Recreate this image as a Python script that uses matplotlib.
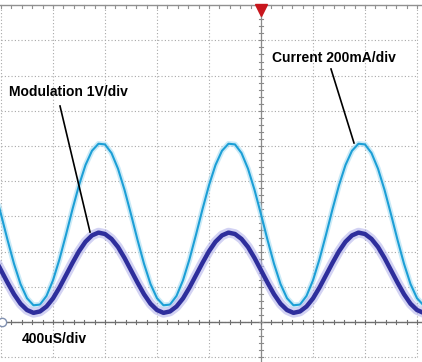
import matplotlib
matplotlib.use('Agg')
import matplotlib.pyplot as plt
import numpy as np

# Time samples in ms (400 us/div on the scope)
time_ms = [-0.05] + [round(0.05 * i, 2) for i in range(66)]

# Modulation voltage (V)
mod_period = [1.47, 1.12, 0.79, 0.52, 0.34, 0.26, 0.30, 0.44, 0.67, 0.98,
              1.33, 1.68, 2.01, 2.28, 2.46, 2.54, 2.50, 2.36, 2.13, 1.82]
modulation_v = [1.82] + mod_period * 3 + [1.47, 1.12, 0.79, 0.52, 0.34, 0.26]

# LED current (mA)
cur_period = [612, 467, 331, 216, 135, 95, 99, 148, 237, 357,
              496, 641, 777, 892, 973, 1013, 1009, 960, 871, 751]
current_ma = [751] + cur_period * 3 + [612, 467, 331, 216, 135, 95]

# Scope settings
volts_per_div = 1.0
ma_per_div = 200.0

t = np.array(time_ms)
mod_div = np.array(modulation_v) / volts_per_div
cur_div = np.array(current_ma) / ma_per_div

# Figure covering the whole image
fig = plt.figure(figsize=(4.22, 3.62), dpi=100)
ax = fig.add_axes([0, 0, 1, 1])
ax.set_xlim(-1 / 130, 421 / 130)
ax.set_ylim(-40 / 35.2, 322 / 35.2)
ax.axis('off')

grid_color = '#a8a8a8'

# Dotted graticule
for gx in np.arange(0, 3.21, 0.4):
    ax.plot([gx, gx], [-1, 9], color=grid_color, lw=0.8, ls=(0, (1, 2)), zorder=1)
for gy in range(-1, 9):
    ax.plot([0, 3.2], [gy, gy], color=grid_color, lw=0.8, ls=(0, (1, 2)), zorder=1)

# Solid top line and center axes with small ticks
ax.plot([-0.01, 3.24], [9, 9], color='#909090', lw=1.0, zorder=2)
ax.plot([2.0, 2.0], [-1.2, 9], color='#8a8a8a', lw=0.9, zorder=2)
ax.plot([-0.01, 3.24], [0, 0], color='#707070', lw=1.0, zorder=2)
for tx in np.arange(0, 3.21, 0.08):
    ax.plot([tx, tx], [-0.07, 0.07], color='#707070', lw=0.8, zorder=2)
    ax.plot([tx, tx], [8.93, 9.0], color='#909090', lw=0.8, zorder=2)
for ty in np.arange(-1, 9.01, 0.2):
    ax.plot([1.985, 2.015], [ty, ty], color='#8a8a8a', lw=0.8, zorder=2)

# Current trace (light blue) with faint glow
ax.plot(t, cur_div, color='#a8dcf2', lw=4, alpha=0.6, zorder=3)
ax.plot(t, cur_div, color='#1c9fd6', lw=1.5, zorder=4)

# Modulation trace (dark blue) with glow
ax.plot(t, mod_div, color='#b4b4ec', lw=7, alpha=0.6, zorder=5)
ax.plot(t, mod_div, color='#2e2e9c', lw=3.2, zorder=6)

# Trigger marker and ground reference
ax.plot([2.0], [8.85], marker='v', color='#c8161d', markersize=8, zorder=7)
ax.plot([0.005], [0], marker='o', markersize=6, markerfacecolor='white',
        markeredgecolor='#8090b0', zorder=7)

# Annotations
ax.text(8 / 130, (322 - 92) / 35.2, 'Modulation 1V/div', fontsize=10,
        fontweight='bold', family='Liberation Sans', va='center', ha='left', zorder=8)
ax.plot([59 / 130, 89 / 130], [(322 - 106) / 35.2, (322 - 232) / 35.2],
        color='black', lw=1.2, zorder=8)

ax.text(271 / 130, (322 - 58) / 35.2, 'Current 200mA/div', fontsize=10,
        fontweight='bold', family='Liberation Sans', va='center', ha='left', zorder=8)
ax.plot([330 / 130, 353 / 130], [(322 - 69) / 35.2, (322 - 143) / 35.2],
        color='black', lw=1.2, zorder=8)

ax.text(21 / 130, (322 - 339) / 35.2, '400uS/div', fontsize=10,
        fontweight='bold', family='Liberation Sans', va='center', ha='left', zorder=8)

fig.savefig('out.png', dpi=100, facecolor='white')
